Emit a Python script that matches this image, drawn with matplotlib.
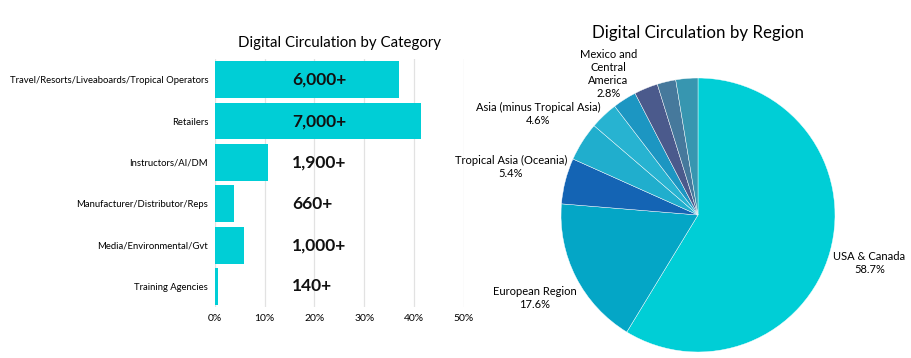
import numpy as np
import matplotlib
matplotlib.use('Agg')
import matplotlib.pyplot as plt

plt.rcParams['font.family'] = ['Lato', 'DejaVu Sans']

# Dados - barras (percentual da circulação por categoria)
categorias = ['Travel/Resorts/Liveaboards/Tropical Operators', 'Retailers',
              'Instructors/AI/DM', 'Manufacturer/Distributor/Reps',
              'Media/Environmental/Gvt', 'Training Agencies']
percentuais = [37.0, 41.5, 10.6, 3.8, 5.9, 0.7]
rotulos_valor = ['6,000+', '7,000+', '1,900+', '660+', '1,000+', '140+']
ticks_x = [0, 10, 20, 30, 40, 50]

# Dados - pizza (percentual por região)
regioes = ['USA & Canada', 'European Region', 'Tropical Asia (Oceania)',
           'Asia (minus Tropical Asia)', '', 'Mexico and\nCentral\nAmerica', '', '', '']
fatias = [58.7, 17.6, 5.4, 4.6, 3.3, 2.8, 2.8, 2.2, 2.6]
cores_fatias = ['#00CED6', '#04A6C6', '#1464B4', '#20AECD', '#27B3D1',
                '#1C96C2', '#4B5A8C', '#46799C', '#3796B0']

fig = plt.figure(figsize=(9.11, 3.58), dpi=100)

# =====================================================================
# GRÁFICO 1: Circulação por categoria
# =====================================================================
ax1 = fig.add_axes([0.236, 0.142, 0.273, 0.693])
y = np.arange(len(categorias))
ax1.barh(y, percentuais, height=0.89, color='#00CED6', zorder=2)
for yi, txt in zip(y, rotulos_valor):
    ax1.text(15.5, yi, txt, ha='left', va='center', fontsize=12.5,
             fontweight='bold', color='#111111', zorder=3)
ax1.set_yticks(y)
ax1.set_yticklabels(categorias, fontsize=6.8)
ax1.set_ylim(len(categorias) - 0.5, -0.5)
ax1.set_xlim(0, 50)
ax1.set_xticks(ticks_x)
ax1.set_xticklabels([f'{t}%' for t in ticks_x], fontsize=7.5)
ax1.tick_params(axis='y', length=0, pad=5)
ax1.tick_params(axis='x', length=0, pad=5)
ax1.grid(True, axis='x', color='#e2e2e2', linewidth=0.9, zorder=0)
for s in ax1.spines.values():
    s.set_visible(False)
ax1.set_title('Digital Circulation by Category', fontsize=10.8, pad=9, x=0.5)

# =====================================================================
# GRÁFICO 2: Circulação por região
# =====================================================================
ax2 = fig.add_axes([(698 - 137) / 911, (358 - 215 - 137) / 358, 274 / 911, 274 / 358])
wedges, _ = ax2.pie(fatias, colors=cores_fatias, startangle=90, counterclock=False,
                    wedgeprops=dict(edgecolor='white', linewidth=0.3))
dist_rotulo = [1.30, 1.34, 1.41, 1.38, 1.3, 1.22, 1.3, 1.3, 1.3]
for w, nome, val, d in zip(wedges, regioes, fatias, dist_rotulo):
    if not nome:
        continue
    ang = np.deg2rad((w.theta1 + w.theta2) / 2)
    ax2.text(d * np.cos(ang), d * np.sin(ang), f'{nome}\n{val}%',
             ha='center', va='center', fontsize=8, linespacing=1.25)
ax2.set_xlim(-1, 1)
ax2.set_ylim(-1, 1)
ax2.set_aspect('equal')
fig.text(698 / 911, 1 - 33 / 358, 'Digital Circulation by Region',
         ha='center', va='center', fontsize=12.2)

plt.savefig('out.png', dpi=100)
